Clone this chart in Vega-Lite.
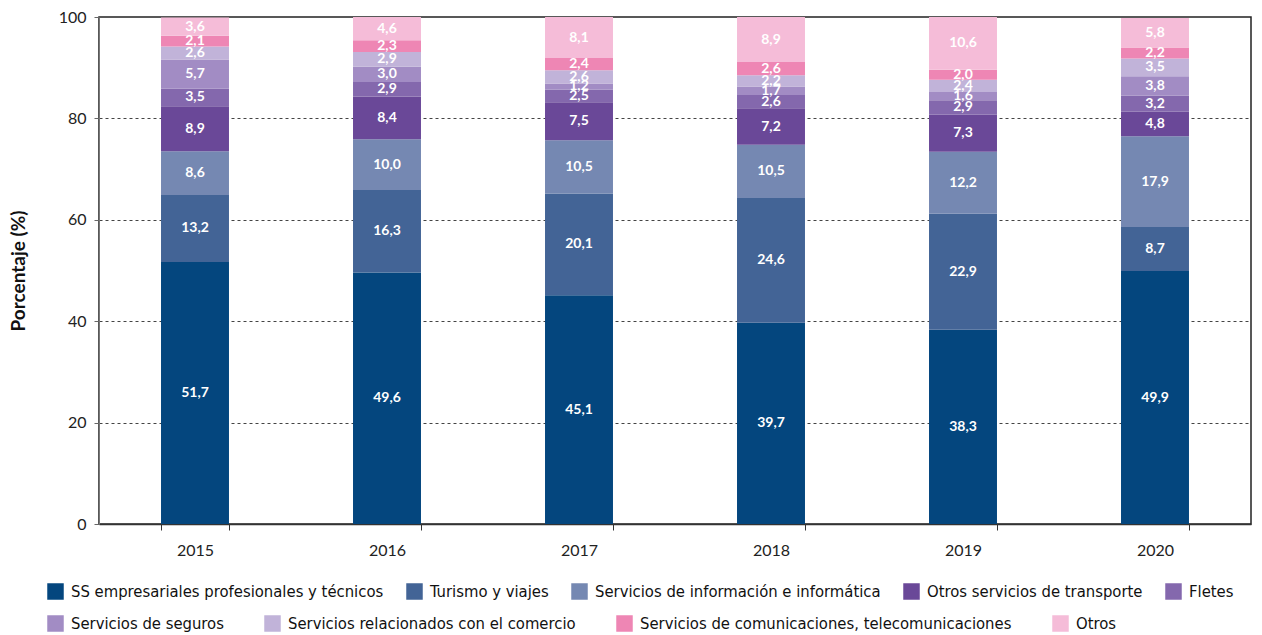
{
  "$schema": "https://vega.github.io/schema/vega-lite/v6.json",
  "width": 1152,
  "height": 507,
  "autosize": {"type": "none"},
  "padding": {"left": 99, "top": 17, "right": 11, "bottom": 111},
  "background": "white",
  "config": {
    "locale": {"number": {"decimal": ",", "thousands": ".", "grouping": [3], "currency": ["", " €"]}},
    "view": {"stroke": "#222", "strokeWidth": 1.5},
    "font": "Lato",
    "legend": {
      "orient": "none", "direction": "horizontal",
      "symbolType": "square", "symbolSize": 272, "symbolStrokeWidth": 0, "symbolOpacity": 1,
      "labelFontSize": 16.5, "labelFont": "DejaVu Sans Condensed", "labelColor": "#111", "labelLimit": 450,
      "labelOffset": 7
    }
  },
  "data": {
    "values": [
      {"year": "2015", "cat": "SS empresariales profesionales y técnicos", "o": 1, "v": 51.7},
      {"year": "2015", "cat": "Turismo y viajes", "o": 2, "v": 13.2},
      {"year": "2015", "cat": "Servicios de información e informática", "o": 3, "v": 8.6},
      {"year": "2015", "cat": "Otros servicios de transporte", "o": 4, "v": 8.9},
      {"year": "2015", "cat": "Fletes", "o": 5, "v": 3.5},
      {"year": "2015", "cat": "Servicios de seguros", "o": 6, "v": 5.7},
      {"year": "2015", "cat": "Servicios relacionados con el comercio", "o": 7, "v": 2.6},
      {"year": "2015", "cat": "Servicios de comunicaciones, telecomunicaciones", "o": 8, "v": 2.1},
      {"year": "2015", "cat": "Otros", "o": 9, "v": 3.6},
      {"year": "2016", "cat": "SS empresariales profesionales y técnicos", "o": 1, "v": 49.6},
      {"year": "2016", "cat": "Turismo y viajes", "o": 2, "v": 16.3},
      {"year": "2016", "cat": "Servicios de información e informática", "o": 3, "v": 10.0},
      {"year": "2016", "cat": "Otros servicios de transporte", "o": 4, "v": 8.4},
      {"year": "2016", "cat": "Fletes", "o": 5, "v": 2.9},
      {"year": "2016", "cat": "Servicios de seguros", "o": 6, "v": 3.0},
      {"year": "2016", "cat": "Servicios relacionados con el comercio", "o": 7, "v": 2.9},
      {"year": "2016", "cat": "Servicios de comunicaciones, telecomunicaciones", "o": 8, "v": 2.3},
      {"year": "2016", "cat": "Otros", "o": 9, "v": 4.6},
      {"year": "2017", "cat": "SS empresariales profesionales y técnicos", "o": 1, "v": 45.1},
      {"year": "2017", "cat": "Turismo y viajes", "o": 2, "v": 20.1},
      {"year": "2017", "cat": "Servicios de información e informática", "o": 3, "v": 10.5},
      {"year": "2017", "cat": "Otros servicios de transporte", "o": 4, "v": 7.5},
      {"year": "2017", "cat": "Fletes", "o": 5, "v": 2.5},
      {"year": "2017", "cat": "Servicios de seguros", "o": 6, "v": 1.2},
      {"year": "2017", "cat": "Servicios relacionados con el comercio", "o": 7, "v": 2.6},
      {"year": "2017", "cat": "Servicios de comunicaciones, telecomunicaciones", "o": 8, "v": 2.4},
      {"year": "2017", "cat": "Otros", "o": 9, "v": 8.1},
      {"year": "2018", "cat": "SS empresariales profesionales y técnicos", "o": 1, "v": 39.7},
      {"year": "2018", "cat": "Turismo y viajes", "o": 2, "v": 24.6},
      {"year": "2018", "cat": "Servicios de información e informática", "o": 3, "v": 10.5},
      {"year": "2018", "cat": "Otros servicios de transporte", "o": 4, "v": 7.2},
      {"year": "2018", "cat": "Fletes", "o": 5, "v": 2.6},
      {"year": "2018", "cat": "Servicios de seguros", "o": 6, "v": 1.7},
      {"year": "2018", "cat": "Servicios relacionados con el comercio", "o": 7, "v": 2.2},
      {"year": "2018", "cat": "Servicios de comunicaciones, telecomunicaciones", "o": 8, "v": 2.6},
      {"year": "2018", "cat": "Otros", "o": 9, "v": 8.9},
      {"year": "2019", "cat": "SS empresariales profesionales y técnicos", "o": 1, "v": 38.3},
      {"year": "2019", "cat": "Turismo y viajes", "o": 2, "v": 22.9},
      {"year": "2019", "cat": "Servicios de información e informática", "o": 3, "v": 12.2},
      {"year": "2019", "cat": "Otros servicios de transporte", "o": 4, "v": 7.3},
      {"year": "2019", "cat": "Fletes", "o": 5, "v": 2.9},
      {"year": "2019", "cat": "Servicios de seguros", "o": 6, "v": 1.6},
      {"year": "2019", "cat": "Servicios relacionados con el comercio", "o": 7, "v": 2.4},
      {"year": "2019", "cat": "Servicios de comunicaciones, telecomunicaciones", "o": 8, "v": 2.0},
      {"year": "2019", "cat": "Otros", "o": 9, "v": 10.6},
      {"year": "2020", "cat": "SS empresariales profesionales y técnicos", "o": 1, "v": 49.9},
      {"year": "2020", "cat": "Turismo y viajes", "o": 2, "v": 8.7},
      {"year": "2020", "cat": "Servicios de información e informática", "o": 3, "v": 17.9},
      {"year": "2020", "cat": "Otros servicios de transporte", "o": 4, "v": 4.8},
      {"year": "2020", "cat": "Fletes", "o": 5, "v": 3.2},
      {"year": "2020", "cat": "Servicios de seguros", "o": 6, "v": 3.8},
      {"year": "2020", "cat": "Servicios relacionados con el comercio", "o": 7, "v": 3.5},
      {"year": "2020", "cat": "Servicios de comunicaciones, telecomunicaciones", "o": 8, "v": 2.2},
      {"year": "2020", "cat": "Otros", "o": 9, "v": 5.8}
    ]
  },
  "transform": [
    {"stack": "v", "groupby": ["year"], "sort": [{"field": "o", "order": "ascending"}], "as": ["v0", "v1"]},
    {"calculate": "(datum.v0 + datum.v1) / 2", "as": "mid"}
  ],
  "encoding": {
    "x": {
      "field": "year", "type": "nominal", "title": null,
      "scale": {"paddingInner": 0.646, "paddingOuter": 0.323},
      "axis": {
        "labelAngle": 0, "labelFontSize": 16, "labelColor": "#222", "labelPadding": 12,
        "tickBand": "extent", "tickSize": 6, "tickColor": "#333", "domainColor": "#333", "domainWidth": 1.5
      }
    },
    "y": {
      "field": "v0", "type": "quantitative", "title": "Porcentaje (%)",
      "scale": {"domain": [0, 100], "clamp": true},
      "axis": {
        "values": [0, 20, 40, 60, 80, 100],
        "labelFontSize": 16, "labelColor": "#222", "labelPadding": 8,
        "tickSize": 5, "tickColor": "#666", "domainColor": "#777",
        "grid": true, "gridColor": "#444", "gridDash": [3, 3], "gridWidth": 1,
        "gridOpacity": {"condition": {"test": "datum.value == 0 || datum.value == 100", "value": 0}, "value": 1},
        "titleFontSize": 19, "titleFontWeight": "bold", "titleColor": "#111", "titlePadding": 30
      }
    }
  },
  "layer": [
    {
      "transform": [{"filter": "datum.o <= 5"}],
      "mark": {"type": "bar"},
      "encoding": {
        "y2": {"field": "v1"},
        "color": {
          "field": "cat", "type": "nominal", "title": null,
          "scale": {
            "domain": ["SS empresariales profesionales y técnicos", "Turismo y viajes", "Servicios de información e informática", "Otros servicios de transporte", "Fletes"],
            "range": ["#04467e", "#436496", "#7588b2", "#6a4898", "#8468ad"]
          },
          "legend": {"legendX": -52, "legendY": 566, "columnPadding": 22}
        }
      }
    },
    {
      "transform": [{"filter": "datum.o >= 6"}],
      "mark": {"type": "bar"},
      "encoding": {
        "y2": {"field": "v1"},
        "color": {
          "field": "cat", "type": "nominal", "title": null,
          "scale": {
            "domain": ["Servicios de seguros", "Servicios relacionados con el comercio", "Servicios de comunicaciones, telecomunicaciones", "Otros"],
            "range": ["#a28cc4", "#c1b3d9", "#ee86b4", "#f5bcd8"]
          },
          "legend": {"legendX": -52, "legendY": 598, "columnPadding": 40}
        }
      }
    },
    {
      "mark": {"type": "text", "color": "white", "fontWeight": "bold", "fontSize": 14, "font": "Lato", "baseline": "middle"},
      "encoding": {
        "y": {"field": "mid", "type": "quantitative"},
        "text": {"field": "v", "type": "quantitative", "format": ".1f"}
      }
    }
  ],
  "resolve": {"scale": {"color": "independent"}, "legend": {"color": "independent"}}
}
